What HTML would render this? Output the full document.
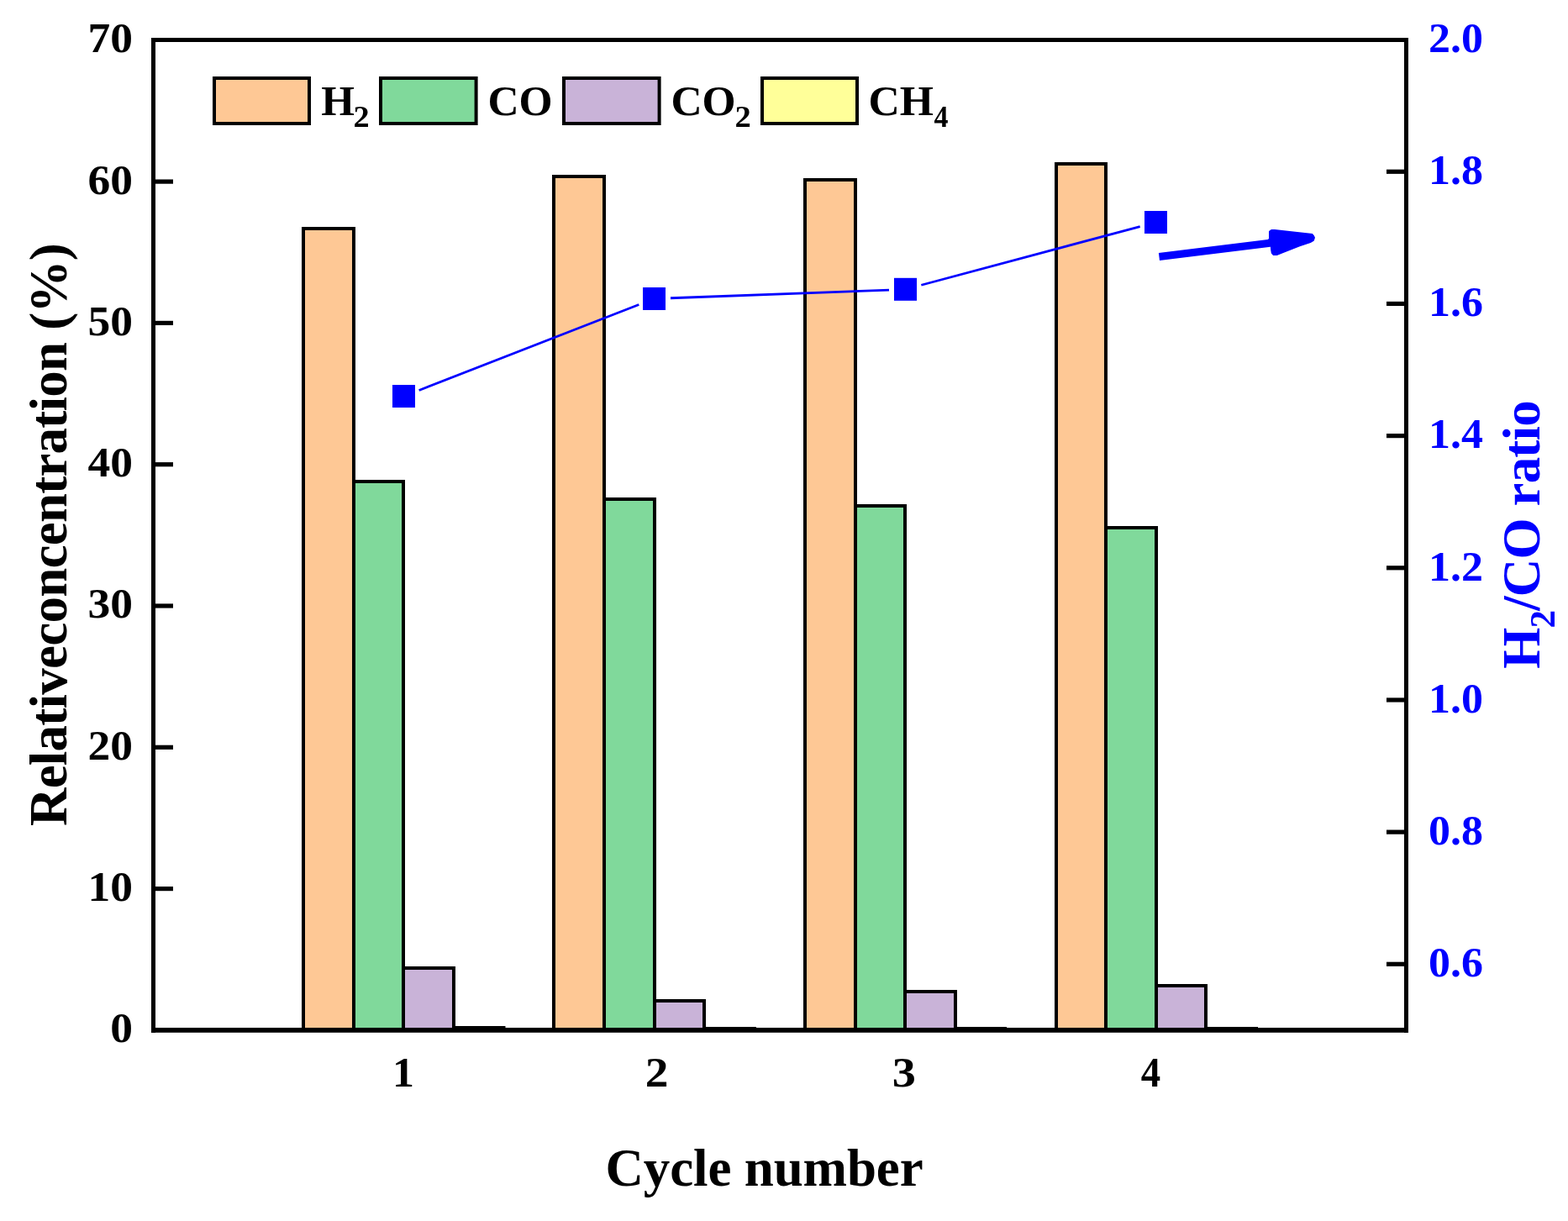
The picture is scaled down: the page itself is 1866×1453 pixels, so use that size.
<!DOCTYPE html>
<html><head><meta charset="utf-8"><title>Chart</title>
<style>html,body{margin:0;padding:0;background:#fff;}svg{display:block;}</style>
</head><body>
<svg width="1866" height="1453" viewBox="0 0 1866 1453">
<rect width="1866" height="1453" fill="#fff"/>
<rect x="361" y="272" width="60" height="954" fill="#FEC895" stroke="#000" stroke-width="4"/>
<rect x="659" y="210" width="60" height="1016" fill="#FEC895" stroke="#000" stroke-width="4"/>
<rect x="958" y="214" width="60" height="1012" fill="#FEC895" stroke="#000" stroke-width="4"/>
<rect x="1257" y="195" width="59" height="1031" fill="#FEC895" stroke="#000" stroke-width="4"/>
<rect x="421" y="573" width="59" height="653" fill="#80D99B" stroke="#000" stroke-width="4"/>
<rect x="719" y="594" width="60" height="632" fill="#80D99B" stroke="#000" stroke-width="4"/>
<rect x="1018" y="602" width="59" height="624" fill="#80D99B" stroke="#000" stroke-width="4"/>
<rect x="1316" y="628" width="60" height="598" fill="#80D99B" stroke="#000" stroke-width="4"/>
<rect x="480" y="1152" width="60" height="74" fill="#C9B3D8" stroke="#000" stroke-width="4"/>
<rect x="779" y="1191" width="59" height="35" fill="#C9B3D8" stroke="#000" stroke-width="4"/>
<rect x="1077" y="1180" width="60" height="46" fill="#C9B3D8" stroke="#000" stroke-width="4"/>
<rect x="1376" y="1173" width="59" height="53" fill="#C9B3D8" stroke="#000" stroke-width="4"/>
<rect x="540" y="1223" width="59.5" height="3" fill="#FFFF99" stroke="#000" stroke-width="4"/>
<rect x="838" y="1224" width="60" height="2" fill="#FFFF99" stroke="#000" stroke-width="4"/>
<rect x="1137" y="1224" width="59" height="2" fill="#FFFF99" stroke="#000" stroke-width="4"/>
<rect x="1435" y="1224" width="60" height="2" fill="#FFFF99" stroke="#000" stroke-width="4"/>
<rect x="180" y="45" width="5" height="1184" fill="#000"/>
<rect x="1671" y="45" width="5" height="1184" fill="#000"/>
<rect x="180" y="45" width="1496" height="5" fill="#000"/>
<rect x="180" y="1223" width="1496" height="5.8" fill="#000"/>
<rect x="185" y="1055.00" width="21" height="5.2" fill="#000"/>
<rect x="185" y="886.70" width="21" height="5.2" fill="#000"/>
<rect x="185" y="718.40" width="21" height="5.2" fill="#000"/>
<rect x="185" y="550.10" width="21" height="5.2" fill="#000"/>
<rect x="185" y="381.80" width="21" height="5.2" fill="#000"/>
<rect x="185" y="213.50" width="21" height="5.2" fill="#000"/>
<rect x="1650" y="1144.71" width="21" height="5.2" fill="#000"/>
<rect x="1650" y="987.54" width="21" height="5.2" fill="#000"/>
<rect x="1650" y="830.37" width="21" height="5.2" fill="#000"/>
<rect x="1650" y="673.19" width="21" height="5.2" fill="#000"/>
<rect x="1650" y="516.02" width="21" height="5.2" fill="#000"/>
<rect x="1650" y="358.85" width="21" height="5.2" fill="#000"/>
<rect x="1650" y="201.67" width="21" height="5.2" fill="#000"/>
<g font-family='"Liberation Serif", "Times New Roman", serif' font-weight='bold' font-size="50" fill="#000" text-anchor="end" transform="translate(158,0) scale(1.07,1) translate(-158,0)">
<text x="158" y="1240.4">0</text>
<text x="158" y="1072.1">10</text>
<text x="158" y="903.8">20</text>
<text x="158" y="735.5">30</text>
<text x="158" y="567.2">40</text>
<text x="158" y="398.9">50</text>
<text x="158" y="230.6">60</text>
<text x="158" y="62.3">70</text>
</g>
<g font-family='"Liberation Serif", "Times New Roman", serif' font-weight='bold' font-size="50" fill="#0000FF" transform="translate(1700.5,0) scale(1.04,1) translate(-1699,0)">
<text x="1698.6" y="1162.1">0.6</text>
<text x="1698.6" y="1004.9">0.8</text>
<text x="1698.6" y="847.8">1.0</text>
<text x="1698.6" y="690.6">1.2</text>
<text x="1698.6" y="533.4">1.4</text>
<text x="1698.6" y="376.2">1.6</text>
<text x="1698.6" y="219.1">1.8</text>
<text x="1698.6" y="61.9">2.0</text>
</g>
<text transform="translate(467.05,1293) scale(1.0376,1)" font-family='"Liberation Serif", "Times New Roman", serif' font-weight='bold' font-size="50" fill="#000">1</text>
<text transform="translate(767.67,1293) scale(1.1083,1)" font-family='"Liberation Serif", "Times New Roman", serif' font-weight='bold' font-size="50" fill="#000">2</text>
<text transform="translate(1061.78,1293) scale(1.1256,1)" font-family='"Liberation Serif", "Times New Roman", serif' font-weight='bold' font-size="50" fill="#000">3</text>
<text transform="translate(1357.76,1293) scale(0.9364,1)" font-family='"Liberation Serif", "Times New Roman", serif' font-weight='bold' font-size="50" fill="#000">4</text>
<text x="720.5" y="1410.5" font-family='"Liberation Serif", "Times New Roman", serif' font-weight='bold' font-size="63" textLength="378.1" lengthAdjust="spacing">Cycle number</text>
<text transform="translate(79,983.08) rotate(-90)" font-family='"Liberation Serif", "Times New Roman", serif' font-weight='bold' font-size="63" textLength="693.85" lengthAdjust="spacing">Relativeconcentration (%)</text>
<text transform="translate(1832,795.8) rotate(-90)" font-family='"Liberation Serif", "Times New Roman", serif' font-weight='bold' font-size="63" fill="#0000FF" textLength="319.5" lengthAdjust="spacing">H<tspan font-size="43" dy="17.5">2</tspan><tspan dy="-17.5">/CO ratio</tspan></text>
<rect x="255" y="93" width="113" height="54" fill="#FEC895" stroke="#000" stroke-width="4"/>
<rect x="453" y="93" width="113.60000000000002" height="54" fill="#80D99B" stroke="#000" stroke-width="4"/>
<rect x="671" y="93" width="113.60000000000002" height="54" fill="#C9B3D8" stroke="#000" stroke-width="4"/>
<rect x="907" y="93" width="113" height="54" fill="#FFFF99" stroke="#000" stroke-width="4"/>
<text transform="translate(382.13,137.2) scale(1.0213,1)" font-family='"Liberation Serif", "Times New Roman", serif' font-weight='bold' font-size="50" fill="#000">H</text>
<text transform="translate(420.49,150.9) scale(1.0946,1)" font-family='"Liberation Serif", "Times New Roman", serif' font-weight='bold' font-size="35" fill="#000">2</text>
<text transform="translate(580.39,137.2) scale(1.0297,1)" font-family='"Liberation Serif", "Times New Roman", serif' font-weight='bold' font-size="50" fill="#000">CO</text>
<text transform="translate(798.39,137.2) scale(1.0297,1)" font-family='"Liberation Serif", "Times New Roman", serif' font-weight='bold' font-size="50" fill="#000">CO</text>
<text transform="translate(874.38,150.9) scale(1.1014,1)" font-family='"Liberation Serif", "Times New Roman", serif' font-weight='bold' font-size="35" fill="#000">2</text>
<text transform="translate(1033.38,137.2) scale(1.0331,1)" font-family='"Liberation Serif", "Times New Roman", serif' font-weight='bold' font-size="50" fill="#000">CH</text>
<text transform="translate(1111.54,150.9) scale(0.9712,1)" font-family='"Liberation Serif", "Times New Roman", serif' font-weight='bold' font-size="35" fill="#000">4</text>
<line x1="498.67" y1="464.43" x2="760.33" y2="362.57" stroke="#0000FF" stroke-width="2.8"/>
<line x1="797.99" y1="354.77" x2="1058.01" y2="345.03" stroke="#0000FF" stroke-width="2.8"/>
<line x1="1096.34" y1="339.26" x2="1356.66" y2="269.54" stroke="#0000FF" stroke-width="2.8"/>
<rect x="467.0" y="458.0" width="27" height="27" fill="#0000FF"/>
<rect x="765.0" y="342.0" width="27" height="27" fill="#0000FF"/>
<rect x="1064.0" y="330.8" width="27" height="27" fill="#0000FF"/>
<rect x="1362.0" y="251.0" width="27" height="27" fill="#0000FF"/>
<polygon points="1378.9,301 1508.8,285 1510,283.9 1510,275.4 1511.2,274 1513.2,272.9 1517,272.9 1525.9,274.1 1561.9,278.1 1563.8,280.3 1565,282.7 1563.8,286.5 1561.9,287.7 1559.7,288.9 1546.9,293.3 1531,299.6 1519.7,303.9 1515.1,303.9 1512.9,301.5 1512.2,297.6 1511.9,293.8 1380,309.9" fill="#0000FF"/>
</svg>
</body></html>
